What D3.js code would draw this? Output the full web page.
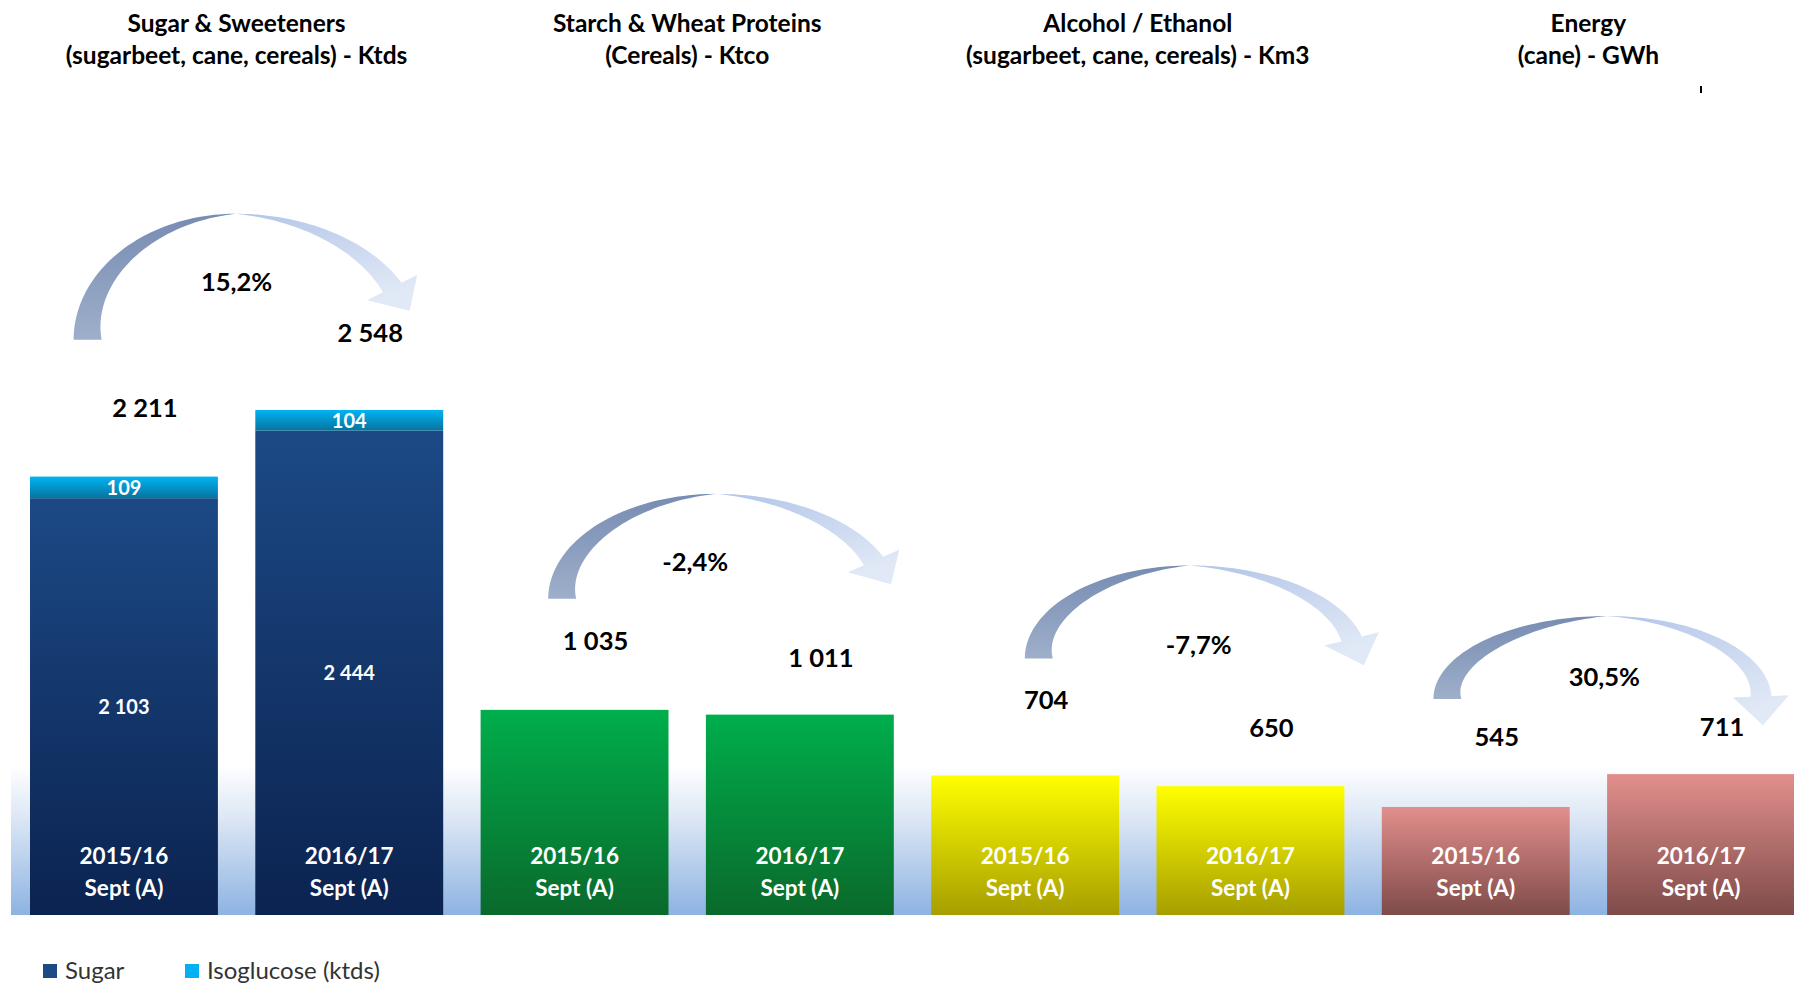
<!DOCTYPE html>
<html>
<head>
<meta charset="utf-8">
<script src="https://cdn.jsdelivr.net/npm/d3@7"></script>
<style>
  html, body { margin: 0; padding: 0; background: #fff; }
  svg { display: block; font-family: Lato, "Open Sans", sans-serif; }
</style>
</head>
<body>
<div id="chart"></div>
<script>
// ---- data ----
const groupTitles = ["Sugar & Sweeteners", "Starch & Wheat Proteins", "Alcohol / Ethanol", "Energy"];
const groupUnits = ["(sugarbeet, cane, cereals) - Ktds", "(Cereals) - Ktco", "(sugarbeet, cane, cereals) - Km3", "(cane) - GWh"];
const seasons = ["2015/16", "2016/17"];
const seasonNote = "Sept (A)";
const mainValues = [2103, 2444, 1035, 1011, 704, 650, 545, 711];
const isoValues = [109, 104, 0, 0, 0, 0, 0, 0];
const totals = [2211, 2548, 1035, 1011, 704, 650, 545, 711];
const changes = ["15,2%", "-2,4%", "-7,7%", "30,5%"];
const legendLabels = ["Sugar", "Isoglucose (ktds)"];

// colour per group: [top, bottom] of the bar gradient
const groupColors = [["#1c4985", "#0b2350"], ["#00ae4c", "#0a692b"], ["#ffff00", "#a69e00"], ["#e28f8c", "#7e4b49"]];
const isoColors = ["#00b4f2", "#07739f"];

// hand placed annotation nudges (px)
const labelLift = [69, 77, 69, 57, 76, 58, 70, 47];
const arrowLayout = [
    {tail: -163, top: -1, head: 165, tailY: -137, topY: -263, headY: -194, pctX: 0, pctY: -195},
    {tail: -139, top: 29, head: 196, tailY: -111, topY: -216, headY: -153, pctX: 8, pctY: -148},
    {tail: -113, top: 52, head: 224, tailY: -117, topY: -210, headY: -139, pctX: 61, pctY: -131},
    {tail: -155, top: 19, head: 183, tailY: -108, topY: -191, headY: -111, pctX: 16, pctY: -130}
];

const width = 1794, height = 987;
const fmt = d3.formatLocale({decimal: ",", thousands: " ", grouping: [3], currency: ["", ""]}).format(",d");

const svg = d3.select("#chart").append("svg")
    .attr("width", width)
    .attr("height", height);

const defs = svg.append("defs");

function vGrad(id, top, bottom) {
    let g = defs.append("linearGradient").attr("id", id)
        .attr("x1", 0).attr("y1", 0).attr("x2", 0).attr("y2", 1);
    g.append("stop").attr("offset", "0%").attr("stop-color", top);
    g.append("stop").attr("offset", "100%").attr("stop-color", bottom);
}
groupColors.forEach((c, i) => vGrad("bar" + i, c[0], c[1]));
vGrad("iso", isoColors[0], isoColors[1]);
vGrad("arrowL", "#778cb2", "#9eafca");
let gr = defs.append("linearGradient").attr("id", "arrowR")
    .attr("x1", 0).attr("y1", 0).attr("x2", 0.6).attr("y2", 1);
gr.append("stop").attr("offset", "0%").attr("stop-color", "#b2c5e8");
gr.append("stop").attr("offset", "100%").attr("stop-color", "#e1e9f6");

let bgGrad = defs.append("linearGradient").attr("id", "band")
    .attr("x1", 0).attr("y1", 0).attr("x2", 0).attr("y2", 1);
bgGrad.append("stop").attr("offset", "0%").attr("stop-color", "#ffffff");
bgGrad.append("stop").attr("offset", "35%").attr("stop-color", "#dde7f5");
bgGrad.append("stop").attr("offset", "100%").attr("stop-color", "#8db3e2");

// scales
const x = d3.scaleBand()
    .domain(d3.range(totals.length))
    .range([30, 1795])
    .paddingInner(0.166)
    .paddingOuter(0);

const y = d3.scaleLinear()
    .domain([0, 2548])
    .range([915, 410]);

const groupCenter = g => (x(2 * g) + x(2 * g + 1) + x.bandwidth()) / 2;

// background band behind the bars
svg.append("rect")
    .attr("x", 11).attr("y", 765)
    .attr("width", width - 11).attr("height", y(0) - 765)
    .attr("fill", "url(#band)");

// bars
const bars = svg.append("g");
bars.selectAll(".main").data(mainValues).join("rect")
    .attr("class", "main")
    .attr("x", (d, i) => x(i))
    .attr("y", d => y(d))
    .attr("width", x.bandwidth())
    .attr("height", d => y(0) - y(d))
    .attr("fill", (d, i) => `url(#bar${Math.floor(i / 2)})`);

bars.selectAll(".iso").data(isoValues).join("rect")
    .attr("class", "iso")
    .attr("x", (d, i) => x(i))
    .attr("y", (d, i) => y(mainValues[i] + d))
    .attr("width", x.bandwidth())
    .attr("height", (d, i) => y(mainValues[i]) - y(mainValues[i] + d))
    .attr("fill", "url(#iso)");

// labels inside the sugar bars
const inner = svg.append("g")
    .attr("fill", "#fff").attr("font-weight", 700).attr("font-size", 20)
    .attr("text-anchor", "middle");
isoValues.forEach((v, i) => {
    if (!v) return;
    inner.append("text")
        .attr("x", x(i) + x.bandwidth() / 2)
        .attr("y", (y(mainValues[i]) + y(mainValues[i] + v)) / 2)
        .attr("dy", "0.36em")
        .text(fmt(v));
    inner.append("text")
        .attr("x", x(i) + x.bandwidth() / 2)
        .attr("y", (y(0) + y(mainValues[i])) / 2)
        .attr("dy", "0.36em")
        .text(fmt(mainValues[i]));
});

// season labels at the bar foot
const cats = svg.append("g")
    .attr("fill", "#fff").attr("font-weight", 700).attr("font-size", 22.5)
    .attr("text-anchor", "middle");
totals.forEach((d, i) => {
    cats.append("text")
        .attr("x", x(i) + x.bandwidth() / 2).attr("y", 856).attr("dy", "0.36em")
        .text(seasons[i % 2]);
    cats.append("text")
        .attr("x", x(i) + x.bandwidth() / 2).attr("y", 888).attr("dy", "0.36em")
        .text(seasonNote);
});

// totals above bars
svg.append("g").selectAll("text").data(totals).join("text")
    .attr("x", (d, i) => x(i) + x.bandwidth() / 2 + 21)
    .attr("y", (d, i) => y(d) - labelLift[i])
    .attr("dy", "0.36em")
    .attr("text-anchor", "middle")
    .attr("font-weight", 700).attr("font-size", 25.5)
    .attr("fill", "#000")
    .text(d => fmt(d));

// group titles
const titles = svg.append("g")
    .attr("font-weight", 700).attr("font-size", 24.5)
    .attr("text-anchor", "middle").attr("fill", "#000");
groupTitles.forEach((t, g) => {
    titles.append("text").attr("x", groupCenter(g)).attr("y", 23).attr("dy", "0.36em").text(t);
    titles.append("text").attr("x", groupCenter(g)).attr("y", 55).attr("dy", "0.36em").text(groupUnits[g]);
});

// curved arrows (left band tapers to the top, right band grows into the head)
function arrowShapes(a) {
    const cx = a.topX, cy = a.tailY, ry = a.tailY - a.topY, rxL = a.topX - a.tailX;
    const tEnd = Math.asin(Math.max(0, Math.min(1, (a.tailY - a.headY) / ry)));
    const rxR = (a.headX - cx) / Math.cos(tEnd);
    const w0 = 28, w1 = 21, hw = 28, hl = 29, n = 48;
    let outer = [], innerPts = [];
    for (let i = 0; i <= n; i++) {
        let t = Math.PI - (Math.PI / 2) * i / n;
        let w = w0 * (1 - i / n);
        outer.push([cx + rxL * Math.cos(t), cy - ry * Math.sin(t)]);
        innerPts.push([cx + (rxL - w) * Math.cos(t), cy - (ry - w) * Math.sin(t)]);
    }
    const left = outer.concat(innerPts.reverse());

    outer = []; innerPts = [];
    for (let i = 0; i <= n; i++) {
        let t = Math.PI / 2 - (Math.PI / 2 - tEnd) * i / n;
        let w = w1 * i / n;
        outer.push([cx + rxR * Math.cos(t), cy - ry * Math.sin(t)]);
        innerPts.push([cx + (rxR - w) * Math.cos(t), cy - (ry - w) * Math.sin(t)]);
    }
    const o = outer[n], ip = innerPts[n];
    const m = [(o[0] + ip[0]) / 2, (o[1] + ip[1]) / 2];
    let ux = o[0] - ip[0], uy = o[1] - ip[1];
    let ul = Math.hypot(ux, uy); ux /= ul; uy /= ul;
    let fx = rxR * Math.sin(tEnd), fy = ry * Math.cos(tEnd);
    let fl = Math.hypot(fx, fy); fx /= fl; fy /= fl;
    const head = [
        [m[0] + ux * hw, m[1] + uy * hw],
        [m[0] + fx * hl, m[1] + fy * hl],
        [m[0] - ux * hw, m[1] - uy * hw]
    ];
    const right = outer.concat(head, innerPts.reverse());
    return [left, right];
}

const line = d3.line();
const arrows = svg.append("g");
arrowLayout.forEach((l, g) => {
    const gc = groupCenter(g);
    const ref = y(totals[2 * g]);
    const a = {
        tailX: gc + l.tail, topX: gc + l.top, headX: gc + l.head,
        tailY: ref + l.tailY, topY: ref + l.topY, headY: ref + l.headY
    };
    const [left, right] = arrowShapes(a);
    arrows.append("path").attr("d", line(right) + "Z").attr("fill", "url(#arrowR)");
    arrows.append("path").attr("d", line(left) + "Z").attr("fill", "url(#arrowL)");
    arrows.append("text")
        .attr("x", gc + l.pctX).attr("y", ref + l.pctY).attr("dy", "0.36em")
        .attr("text-anchor", "middle")
        .attr("font-weight", 700).attr("font-size", 25.5)
        .attr("fill", "#000")
        .text(changes[g]);
});

// small stray tick under the Energy title
svg.append("rect").attr("x", 1700).attr("y", 86).attr("width", 2).attr("height", 7).attr("fill", "#000");

// legend
const legend = svg.append("g").attr("font-size", 24).attr("fill", "#333");
const legendColors = ["#1d4a84", "#00b0f0"];
const legendX = [43, 185];
legendLabels.forEach((t, i) => {
    legend.append("rect")
        .attr("x", legendX[i]).attr("y", 964)
        .attr("width", 14).attr("height", 14)
        .attr("fill", legendColors[i]);
    legend.append("text")
        .attr("x", legendX[i] + 22).attr("y", 979)
        .text(t);
});
</script>
</body>
</html>
